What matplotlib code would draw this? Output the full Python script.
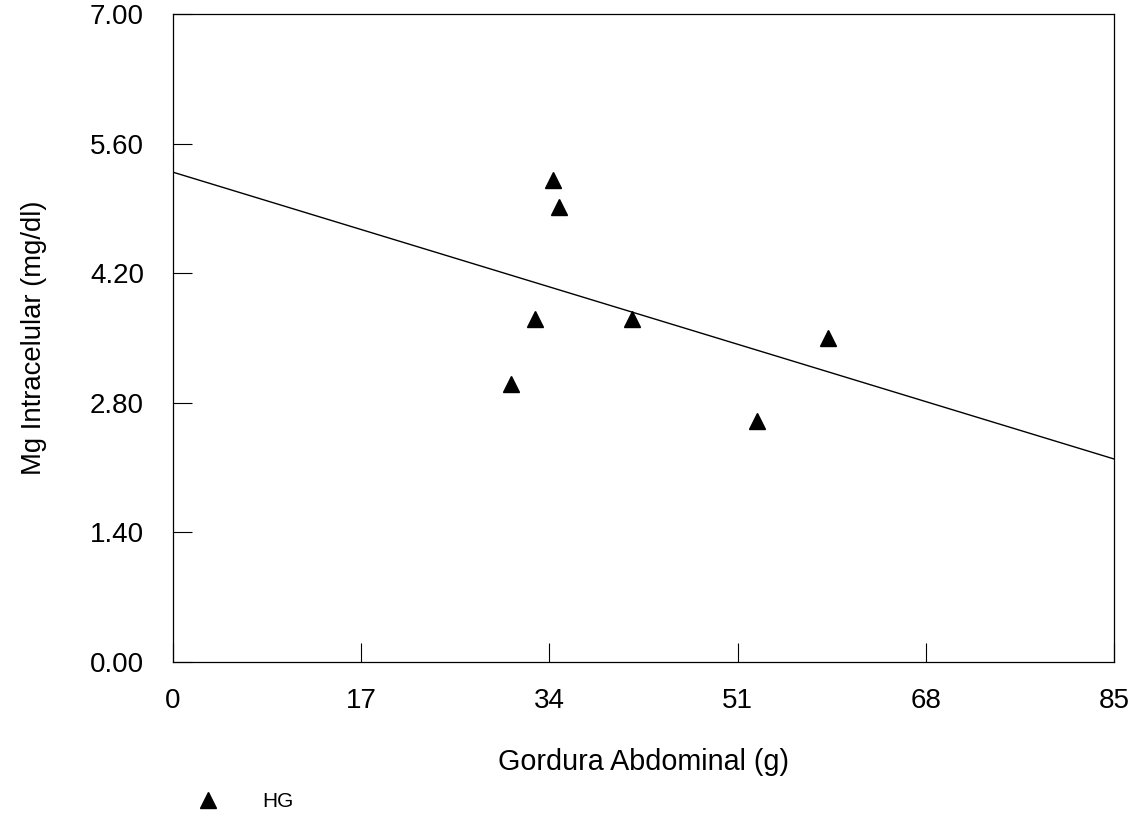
import numpy as np
from matplotlib import pyplot as plt

plt.rcParams['font.family'] = ['Liberation Sans', 'DejaVu Sans']

# data
gordura = [30.5, 32.7, 34.3, 34.87, 41.5, 52.78, 59.2]
mg_intra = [3.00, 3.70, 5.21, 4.91, 3.70, 2.60, 3.50]
x_ticks = [0, 17, 34, 51, 68, 85]
y_ticks = [0.0, 1.4, 2.8, 4.2, 5.6, 7.0]

fig = plt.figure(figsize=(11.43, 8.19), dpi=100)
ax = fig.add_axes([0.1514, 0.1917, 0.8232, 0.7912])

ax.plot(gordura, mg_intra, linestyle='none', marker='^', color='black',
        markersize=11.5, label='HG')

# linear fit over the whole x range
slope, intercept = np.polyfit(gordura, mg_intra, 1)
xs = np.array([x_ticks[0], x_ticks[-1]])
ax.plot(xs, slope * xs + intercept, color='black', linewidth=1)

ax.set_xlim(x_ticks[0], x_ticks[-1])
ax.set_ylim(y_ticks[0], y_ticks[-1])
ax.set_xticks(x_ticks)
ax.set_yticks(y_ticks)
ax.set_yticklabels([f"{v:.2f}" for v in y_ticks])
ax.tick_params(direction='in', length=14, width=0.8, labelsize=20)
ax.tick_params(axis='y', pad=21)
ax.tick_params(axis='x', pad=19)
for s in ax.spines.values():
    s.set_linewidth(0.9)

ax.set_xlabel("Gordura Abdominal (g)", fontsize=20.7, labelpad=24)
ax.set_ylabel("Mg Intracelular (mg/dl)", fontsize=19.8, labelpad=31)

ax.legend(loc='center left', bbox_to_anchor=(0.155, 0.021), bbox_transform=fig.transFigure,
          frameon=False, fontsize=15, handlelength=2.0, handletextpad=1.6, borderpad=0)

fig.savefig("out.png", dpi=100)
